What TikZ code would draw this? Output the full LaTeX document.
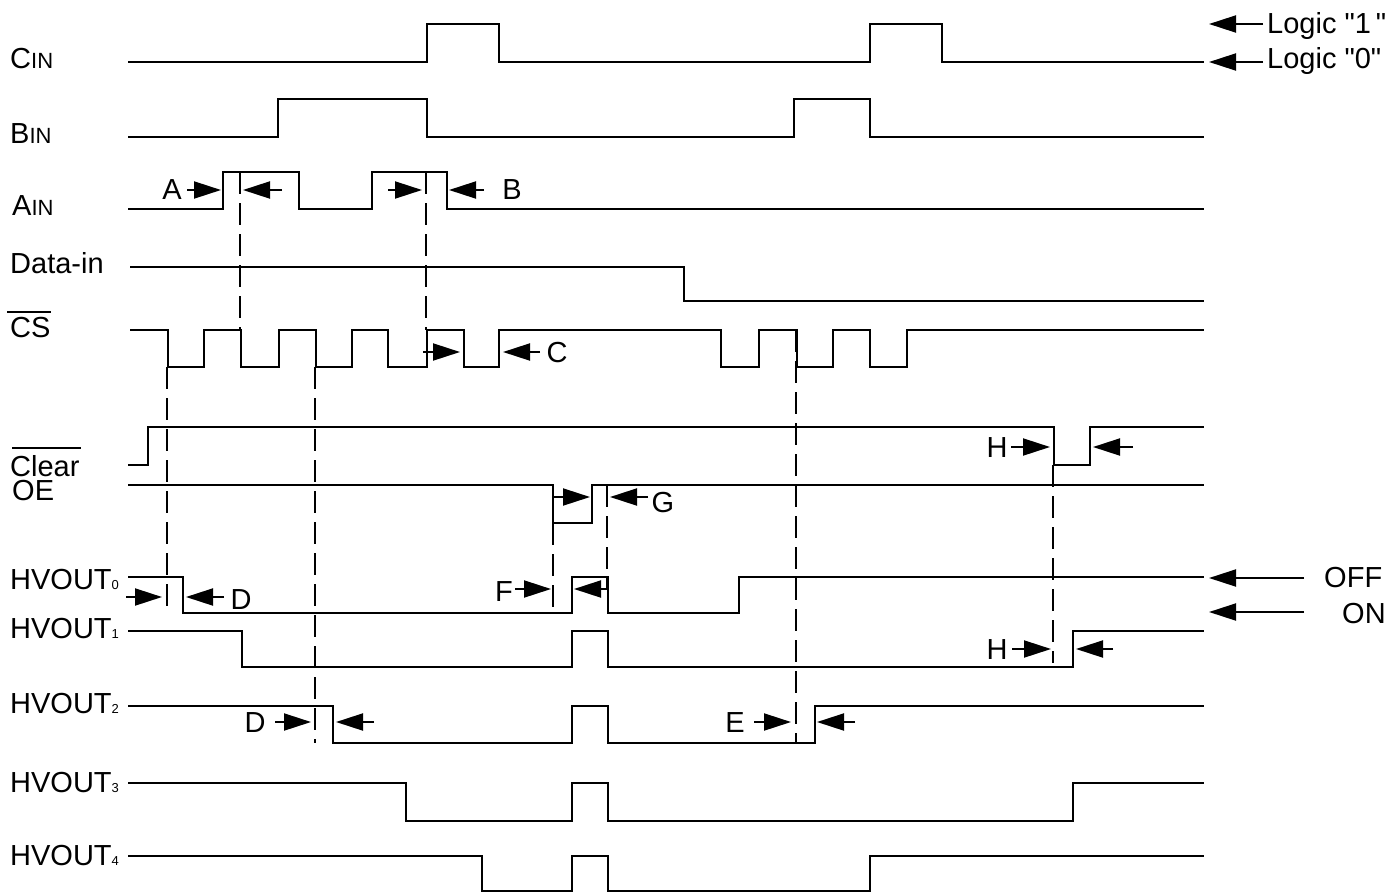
\documentclass[tikz,border=0pt]{standalone}
\usepackage{fontspec}
\setmainfont{Liberation Sans}
\usetikzlibrary{arrows.meta}
\tikzset{
  lbl/.style={inner sep=0pt, anchor=base west, font=\fontsize{29}{31}\selectfont},
  tmark/.style={inner sep=0pt, font=\fontsize{29}{31}\selectfont},
  sig/.style={line width=2.6pt, line join=miter},
  guide/.style={line width=2pt, dash pattern=on 22pt off 9pt},
  tarrow/.style={line width=2pt, -{Triangle[length=27pt,width=17pt]}},
  bar/.style={line width=2pt}
}
\newcommand{\smallsub}[1]{{\fontsize{13}{13}\selectfont #1}}
\newcommand{\smallcap}[1]{{\fontsize{22}{22}\selectfont #1}}
\newcommand{\sq}{\XeTeXglyph\XeTeXcharglyph"22\relax}
\begin{document}
\begin{tikzpicture}[x=1pt,y=-1pt]
\useasboundingbox (0,0) rectangle (1399,894);
% ---------- labels ----------
\node[lbl] (lcin) at (10,68) {C\smallcap{IN}};
\node[lbl] (lbin) at (10,143) {B\smallcap{IN}};
\node[lbl] (lain) at (12,215) {A\smallcap{IN}};
\node[lbl] (ldata) at (10,273) {Data-in};
\node[lbl] (lcs) at (10,337) {CS};
\draw[bar] (7,312) -- (51,312);
\node[lbl] (lclear) at (10,476) {Clear};
\draw[bar] (12,448) -- (81,448);
\node[lbl] (loe) at (12,500) {OE};
\node[lbl] (lh0) at (10,589) {HVOUT\smallsub{0}};
\node[lbl] (lh1) at (10,638) {HVOUT\smallsub{1}};
\node[lbl] (lh2) at (10,713) {HVOUT\smallsub{2}};
\node[lbl] (lh3) at (10,792) {HVOUT\smallsub{3}};
\node[lbl] (lh4) at (10,865) {HVOUT\smallsub{4}};
\node[lbl] (llog1) at (1267,33) {Logic \sq1\,\sq};
\node[lbl] (llog0) at (1267,68) {Logic \sq0\sq};
\node[lbl] (loff) at (1324,587) {OFF};
\node[lbl] (lon) at (1342,623) {ON};
% ---------- guide (dashed) lines ----------
\draw[guide] (240,172) -- (240,330);
\draw[guide] (426,172) -- (426,330);
\draw[guide] (167,367) -- (167,612);
\draw[guide] (315,367) -- (315,743);
\draw[guide] (796,330) -- (796,743);
\draw[guide] (1053,465) -- (1053,663);
\draw[guide] (553,523) -- (553,612);
\draw[guide] (607,485) -- (607,590);
% ---------- signals ----------
\draw[sig] (128,62) -| (427,24) -| (499,62) -| (870,24) -| (942,62) -- (1204,62);
\draw[sig] (128,137) -| (278,99) -| (427,137) -| (794,99) -| (870,137) -- (1204,137);
\draw[sig] (128,209) -| (223,172) -| (299,209) -| (372,172) -| (447,209) -- (1204,209);
\draw[sig] (130,267) -| (684,301) -- (1204,301);
\draw[sig] (130,330) -| (168,367) -| (204,330) -| (241,367) -| (279,330) -| (316,367)
  -| (352,330) -| (388,367) -| (427,330) -| (464,367) -| (499,330) -| (721,367)
  -| (759,330) -| (797,367) -| (833,330) -| (870,367) -| (907,330) -- (1204,330);
\draw[sig] (128,465) -| (148,427) -| (1054,465) -| (1090,427) -- (1204,427);
\draw[sig] (128,485) -| (553,523) -| (592,485) -- (1204,485);
\draw[sig] (128,577) -| (183,613) -| (572,577) -| (608,613) -| (739,577) -- (1204,577);
\draw[sig] (128,631) -| (242,667) -| (572,631) -| (608,667) -| (1073,631) -- (1204,631);
\draw[sig] (128,706) -| (333,743) -| (572,706) -| (608,743) -| (815,706) -- (1204,706);
\draw[sig] (128,783) -| (406,821) -| (572,783) -| (608,821) -| (1073,783) -- (1204,783);
\draw[sig] (128,856) -| (482,891) -| (572,856) -| (608,891) -| (870,856) -- (1204,856);
% ---------- level arrows ----------
\draw[tarrow] (1263,24) -- (1209,24);
\draw[tarrow] (1263,62) -- (1209,62);
\draw[tarrow] (1304,578) -- (1209,578);
\draw[tarrow] (1304,612) -- (1209,612);
% ---------- timing markers ----------
\node[tmark] (ma) at (172,190) {A};
\draw[tarrow] (187,190) -- (221,190);
\draw[tarrow] (282,190) -- (243,190);
\node[tmark] (mb) at (512,190) {B};
\draw[tarrow] (388,190) -- (422,190);
\draw[tarrow] (484,190) -- (449,190);
\node[tmark] (mc) at (557,353) {C};
\draw[tarrow] (423,352) -- (460,352);
\draw[tarrow] (540,352) -- (503,352);
\node[tmark] (md0) at (241,600) {D};
\draw[tarrow] (126,597) -- (162,597);
\draw[tarrow] (224,597) -- (186,597);
\node[tmark] (mf) at (504,592) {F};
\draw[tarrow] (515,589) -- (551,589);
\draw[tarrow] (607,589) -- (574,589);
\node[tmark] (mg) at (663,503) {G};
\draw[tarrow] (553,497) -- (590,497);
\draw[tarrow] (648,497) -- (610,497);
\node[tmark] (md2) at (255,723) {D};
\draw[tarrow] (275,722) -- (311,722);
\draw[tarrow] (374,722) -- (336,722);
\node[tmark] (me) at (735,723) {E};
\draw[tarrow] (754,722) -- (791,722);
\draw[tarrow] (855,722) -- (817,722);
\node[tmark] (mh1) at (997,448) {H};
\draw[tarrow] (1011,447) -- (1050,447);
\draw[tarrow] (1133,447) -- (1093,447);
\node[tmark] (mh2) at (997,650) {H};
\draw[tarrow] (1012,649) -- (1051,649);
\draw[tarrow] (1113,649) -- (1076,649);
\end{tikzpicture}
\end{document}
